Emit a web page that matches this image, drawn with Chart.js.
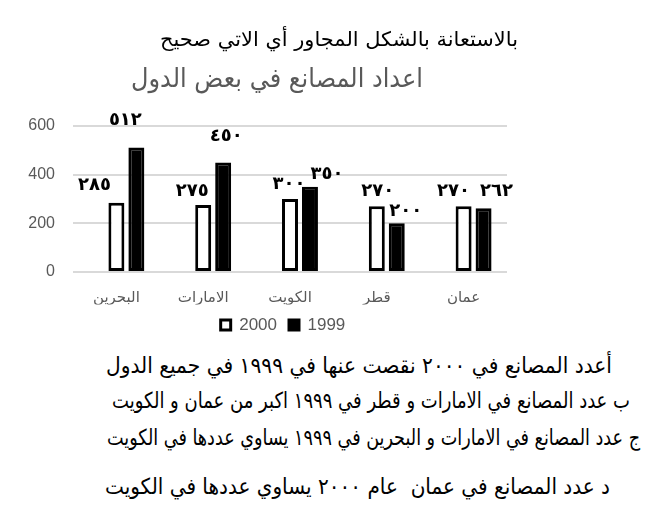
<!DOCTYPE html>
<html lang="ar">
<head>
<meta charset="utf-8">
<script src="https://cdn.jsdelivr.net/npm/chart.js@4/dist/chart.umd.min.js"></script>
<style>
  html, body { margin: 0; padding: 0; background: #fff; }
  body { width: 669px; height: 524px; position: relative; overflow: hidden; }
  #wrap { position: absolute; left: 0; top: 0; width: 669px; height: 346px; }
  .t { position: absolute; white-space: pre; direction: rtl; transform-origin: left center;
       font-family: "DejaVu Sans", sans-serif; line-height: 30px; height: 30px; }
  .t span { display: inline-block; }
</style>
</head>
<body>
<div id="wrap"><canvas id="c"></canvas></div>

<div class="t" data-left="160" data-w="358" data-cy="39" style="font-size:20px;color:#000"><span>بالاستعانة بالشكل المجاور أي الاتي صحيح</span></div>
<div class="t" data-left="131" data-w="292" data-cy="78" style="font-size:26px;color:#595959"><span>اعداد المصانع في بعض الدول</span></div>

<div class="t" data-left="106" data-w="506" data-cy="366" style="font-size:22px;color:#000"><span>أعدد المصانع في ٢٠٠٠ نقصت عنها في ١٩٩٩ في جميع الدول</span></div>
<div class="t" data-left="112" data-w="518" data-cy="401" style="font-size:22px;color:#000"><span>ب عدد المصانع في الامارات و قطر في ١٩٩٩ اكبر من عمان و الكويت</span></div>
<div class="t" data-left="107" data-w="533" data-cy="438" style="font-size:22px;color:#000"><span>ج عدد المصانع في الامارات و البحرين في ١٩٩٩ يساوي عددها في الكويت</span></div>
<div class="t" data-left="105" data-w="505" data-cy="487" style="font-size:22px;color:#000"><span>د عدد المصانع في عمان  عام ٢٠٠٠ يساوي عددها في الكويت</span></div>

<script>
// ---- data ----
const categories = ['البحرين', 'الامارات', 'الكويت', 'قطر', 'عمان'];
const seriesNames = ['2000', '1999'];
const values2000 = [285, 275, 300, 270, 270];
const values1999 = [512, 450, 350, 200, 262];
const yTicks = [0, 200, 400, 600];

// ---- helpers ----
const toArabicDigits = v => String(v).replace(/\d/g, d => '٠١٢٣٤٥٦٧٨٩'[+d]);

// label offsets relative to each bar top (style/position only)
const labelOffsets = {
  1: [[-22, -17], [-11, -14], [-1, -15], [1, -15], [-10, -15]],
  2: [[-11, -27], [3, -26], [17, -13], [9, -12], [13, -17]]
};

const valueLabels = {
  id: 'valueLabels',
  afterDatasetsDraw(chart) {
    const ctx = chart.ctx;
    ctx.save();
    ctx.font = 'bold 18px "DejaVu Sans"';
    ctx.fillStyle = '#000';
    ctx.textAlign = 'center';
    ctx.textBaseline = 'middle';
    if ('letterSpacing' in ctx) ctx.letterSpacing = '4px';
    [1, 2].forEach(di => {
      const meta = chart.getDatasetMeta(di);
      const data = chart.data.datasets[di].data;
      meta.data.forEach((el, i) => {
        const off = labelOffsets[di][i];
        ctx.fillText(toArabicDigits(data[i]), el.x + off[0], el.y + off[1]);
      });
    });
    ctx.restore();
  }
};

// shift the legend block so it is centred like the reference
const legendShift = {
  id: 'legendShift',
  afterLayout(chart) {
    if (chart.legend) chart.legend.left += 59;
  }
};

const gray = '#595959';

new Chart(document.getElementById('c'), {
  type: 'bar',
  data: {
    labels: categories,
    datasets: [
      { label: '', data: [], backgroundColor: 'rgba(0,0,0,0)' },
      { label: seriesNames[0], data: values2000, backgroundColor: '#ffffff',
        borderColor: '#000000', borderWidth: 3, borderSkipped: false },
      { label: seriesNames[1], data: values1999, backgroundColor: '#000000',
        borderColor: '#000000', borderWidth: 3, borderSkipped: false }
    ]
  },
  options: {
    responsive: true,
    maintainAspectRatio: false,
    animation: false,
    events: [],
    layout: { padding: { left: 0, right: 162, top: 126, bottom: 2.5 } },
    datasets: { bar: { categoryPercentage: 0.69, barPercentage: 0.8 } },
    plugins: {
      tooltip: { enabled: false },
      title: { display: false },
      legend: {
        position: 'bottom',
        labels: {
          filter: item => item.text !== '',
          color: gray,
          font: { family: '"Liberation Sans", Arial, sans-serif', size: 17 },
          boxWidth: 10, boxHeight: 10, padding: 12
        }
      }
    },
    scales: {
      x: {
        grid: { display: false, drawTicks: false },
        border: { display: false },
        afterFit: s => { s.height = 32.5; },
        ticks: { color: gray, font: { family: '"DejaVu Sans", sans-serif', size: 15 }, padding: 17 }
      },
      y: {
        min: 0, max: 600,
        afterBuildTicks: s => { s.ticks = yTicks.map(v => ({ value: v })); },
        afterFit: s => { s.width = 73; },
        grid: { color: '#d9d9d9', lineWidth: 2, drawTicks: false },
        border: { display: false },
        ticks: { color: gray, font: { family: '"Liberation Sans", Arial, sans-serif', size: 16 }, padding: 18 }
      }
    }
  },
  plugins: [valueLabels, legendShift]
});

// fit HTML text lines to their measured extents in the reference
document.querySelectorAll('.t').forEach(el => {
  const left = +el.dataset.left, w = +el.dataset.w, cy = +el.dataset.cy;
  el.style.left = left + 'px';
  el.style.top = (cy - 15) + 'px';
  const span = el.querySelector('span');
  const actual = span.getBoundingClientRect().width;
  el.style.transform = 'scaleX(' + (w / actual) + ')';
});
</script>
</body>
</html>
